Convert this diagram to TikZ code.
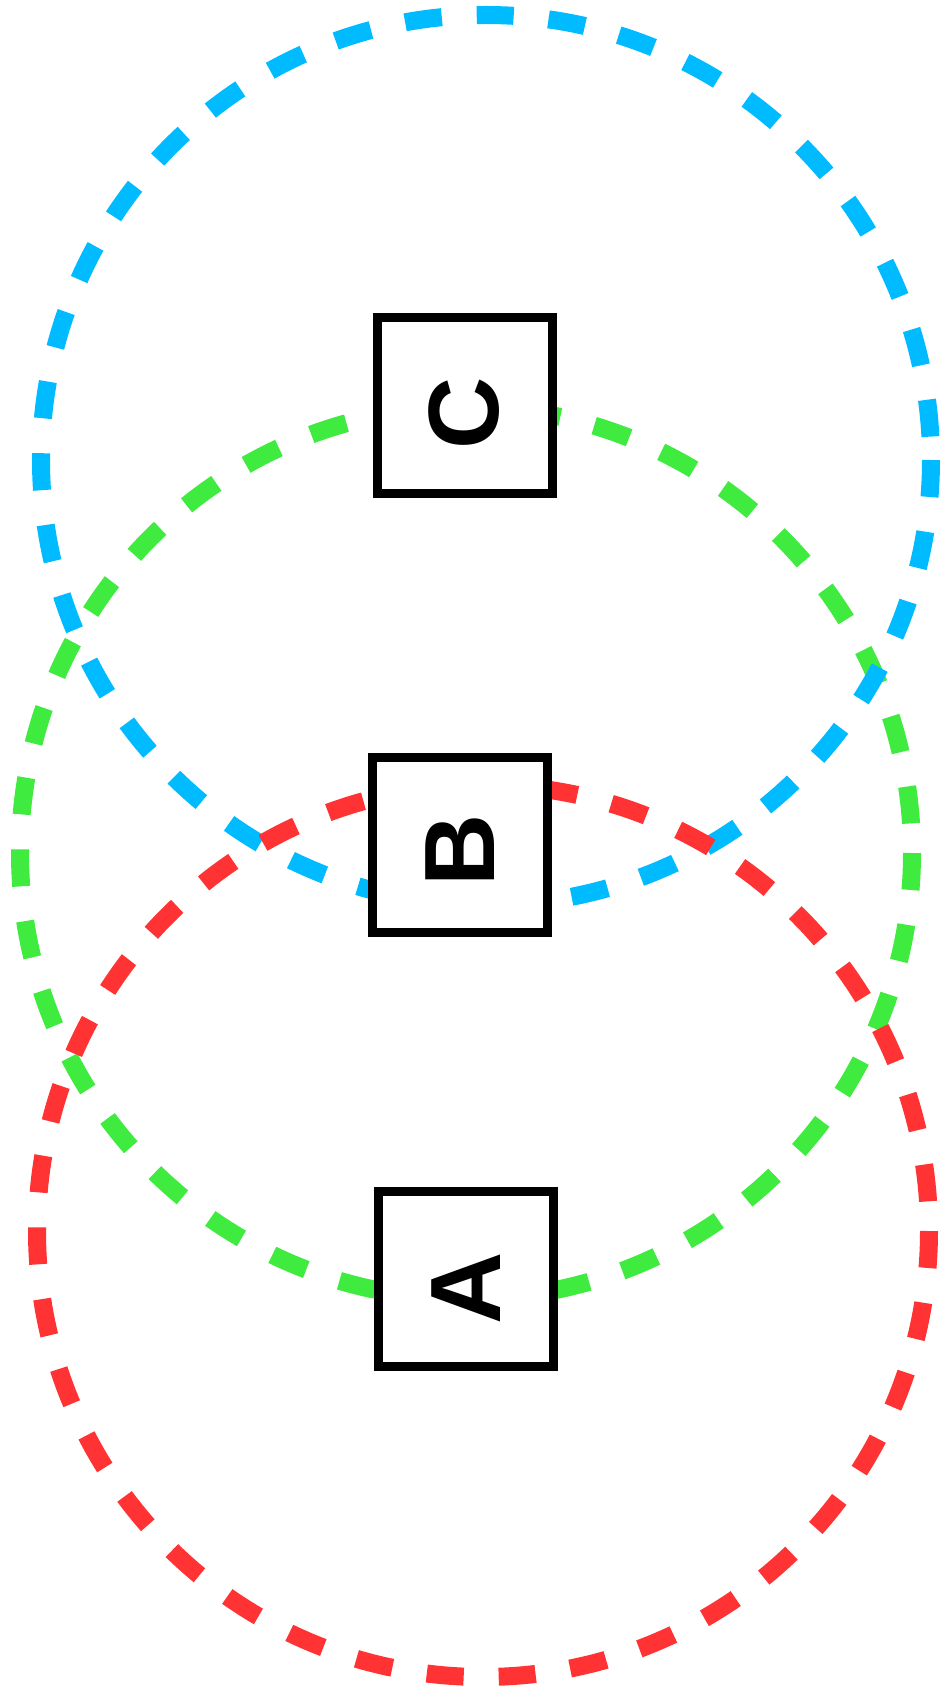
\documentclass[tikz,border=0pt]{standalone}
\usepackage{fontspec}
\setmainfont{Liberation Sans}
\definecolor{cblue}{RGB}{0,187,255}
\definecolor{cred}{RGB}{255,51,51}
\definecolor{cgreen}{RGB}{62,235,62}
\tikzset{
  ring/.style={line width=9pt, dash pattern=on 18.5pt off 17.5pt},
  boxnode/.style={draw=black, fill=white, line width=4.5pt, minimum width=87.5pt, minimum height=87.5pt, inner sep=0pt, rotate=90, font=\bfseries\fontsize{50}{60}\selectfont}
}
\begin{document}
\begin{tikzpicture}[x=0.5pt,y=-0.5pt]
\useasboundingbox (0,0) rectangle (940,1695);
\coordinate (gc) at (466,853);
\coordinate (bc) at (486,460);
\coordinate (rc) at (483,1231);
\draw[ring, cgreen] (gc) circle[radius=446];
\draw[ring, cblue] (bc) circle[radius=445];
\draw[ring, cred] (rc) circle[radius=446];
\node[boxnode] (C) at (464.5,405.5) {C\kern7.5pt};
\node[boxnode] (B) at (459.7,845) {B\kern5pt};
\node[boxnode] (A) at (466,1278.7) {A\kern10pt};
\end{tikzpicture}
\end{document}
